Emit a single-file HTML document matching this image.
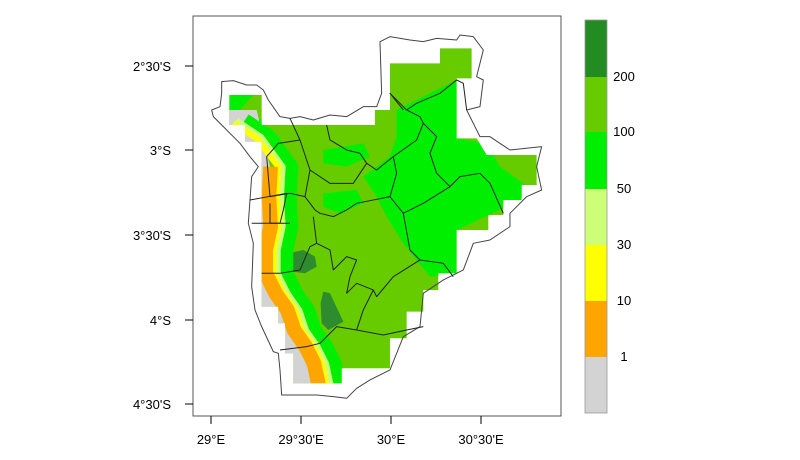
<!DOCTYPE html><html><head><style>body{margin:0;background:#fff}svg{display:block}text{font-family:"Liberation Sans",sans-serif;font-size:13px;fill:#000}</style></head><body>
<svg width="800" height="460" viewBox="0 0 800 460">
<defs><clipPath id="c"><polygon transform="translate(190,10) scale(0.3333)" points="118,255 215,255 215,345 555,345 555,300 600,300 600,160 750,160 750,115 845,115 845,205 800,205 800,385 860,385 890,435 1040,435 1040,525 995,525 995,570 940,570 940,615 895,615 895,660 800,660 800,790 745,790 745,840 700,840 700,905 650,905 650,985 600,985 600,1075 455,1075 455,1120 310,1120 310,1030 285,1030 285,940 265,940 265,890 215,890 215,395 165,395 165,345 118,345"/></clipPath></defs>
<rect x="193" y="16" width="368" height="400" fill="none" stroke="#555" stroke-width="1"/>
<g clip-path="url(#c)"><g transform="translate(190,10) scale(0.3333)">
<rect x="100" y="100" width="1000" height="1100" fill="#66cc00"/>
<polygon fill="#00ee00" points="620,300 800,210 800,385 890,400 930,470 1000,520 995,570 895,615 800,660 800,790 720,800 640,700 590,620 560,560 520,500 600,440 620,380"/>
<polygon fill="#00ee00" points="118,255 190,255 150,300 215,330 215,345 118,345"/>
<polygon fill="#00ee00" points="400,420 520,400 540,440 470,470 400,460"/>
<polygon fill="#00ee00" points="400,550 500,540 520,580 450,610 400,590"/>
<polygon fill="#2e8b2e" points="295,730 340,720 375,740 380,770 345,790 310,785 290,750"/>
<polygon fill="#2e8b2e" points="400,845 420,850 460,935 415,960 395,940 392,880"/>
<polygon fill="#d3d3d3" points="100,300 200,300 240,470 235,560 240,650 225,720 225,790 255,850 290,900 310,960 345,1010 370,1060 385,1130 100,1130"/>
<g fill="none" stroke-linejoin="round">
<polyline stroke="#00ee00" stroke-width="40" points="165,330 240,380 305,470 300,560 305,650 290,720 290,790 320,850 355,900 375,960 410,1010 435,1060 450,1130"/>
<polyline stroke="#ccff77" stroke-width="14" points="140,330 215,380 280,470 275,560 280,650 265,720 265,790 295,850 330,900 350,960 385,1010 410,1060 425,1130"/>
<polyline stroke="#ffff00" stroke-width="18" points="130,340 200,385 265,470 260,560 265,650 250,720 250,790 280,850 315,900 335,960 370,1010 395,1060 410,1130"/>
<polyline stroke="#ffa500" stroke-width="44" points="242,470 237,560 242,650 227,720 227,790 257,850 292,900 312,960 347,1010 372,1060 387,1130"/>
</g></g></g>
<g transform="translate(190,10) scale(0.3333)" fill="none" stroke="#222" stroke-width="3" stroke-linejoin="round">
<polygon stroke="#444" points="95,215 130,212 170,225 200,225 220,240 235,270 270,320 300,325 330,320 370,330 420,315 470,320 520,290 560,290 575,250 570,95 600,80 660,90 700,95 740,85 800,90 810,75 850,80 880,120 860,200 880,210 870,290 830,300 870,380 900,380 960,420 1055,410 1040,470 1055,540 1010,560 960,610 960,650 900,690 850,700 820,780 760,810 700,850 690,950 640,980 600,1080 540,1110 500,1135 470,1165 430,1160 380,1155 275,1155 270,1080 265,1030 250,1025 215,950 195,900 185,830 190,700 175,640 180,570 185,500 205,470 180,440 150,400 100,350 70,320 65,300 90,290 95,250"/>
<polyline points="300,325 330,390 360,480 345,560 300,550 240,560 230,440 265,400 330,390"/>
<polyline points="360,480 420,520 490,520 530,460 510,430 470,420 420,390 410,345"/>
<polyline points="530,460 560,480 610,440 680,390 700,340 690,320 650,300 600,250 640,300"/>
<polyline points="610,440 620,490 600,560 500,580 470,600 430,620 390,610 375,600 345,560"/>
<polyline points="600,560 640,610 700,580 780,530 810,500 870,490 900,520 940,610"/>
<polyline points="780,530 740,490 720,430 740,380 700,340"/>
<polyline points="370,620 380,700 360,710 330,780 270,790 215,790"/>
<polyline points="380,700 420,720 430,780 470,740 500,750 480,800 470,850 500,820 550,840 560,860 610,800 690,750 760,760 790,800"/>
<polyline points="640,610 660,720 690,750"/>
<polyline points="550,840 520,900 500,960 440,950 390,1000 350,1010 270,1020"/>
<polyline points="500,960 580,975 650,960 700,950"/>
<polyline points="830,300 820,220 800,210 750,250 680,280 650,300"/>
<polyline points="180,570 290,550 280,600 270,640 240,640 240,580"/>
<polyline points="185,640 300,640"/>
</g>
<g stroke="#000" stroke-width="1">
<line x1="185" y1="66" x2="193" y2="66"/><line x1="185" y1="150" x2="193" y2="150"/><line x1="185" y1="235" x2="193" y2="235"/><line x1="185" y1="320" x2="193" y2="320"/><line x1="185" y1="404" x2="193" y2="404"/>
<line x1="211" y1="416" x2="211" y2="424"/><line x1="301" y1="416" x2="301" y2="424"/><line x1="391" y1="416" x2="391" y2="424"/><line x1="481" y1="416" x2="481" y2="424"/>
</g>
<g text-anchor="end"><text x="171" y="71">2°30'S</text><text x="171" y="155">3°S</text><text x="171" y="240">3°30'S</text><text x="171" y="325">4°S</text><text x="171" y="409">4°30'S</text></g>
<g text-anchor="middle"><text x="211" y="444">29°E</text><text x="301" y="444">29°30'E</text><text x="391" y="444">30°E</text><text x="481" y="444">30°30'E</text></g>
<rect x="585" y="20" width="22" height="57" fill="#228b22"/>
<rect x="585" y="77" width="22" height="55" fill="#66cc00"/>
<rect x="585" y="132" width="22" height="57" fill="#00ee00"/>
<rect x="585" y="189" width="22" height="56" fill="#ccff77"/>
<rect x="585" y="245" width="22" height="56" fill="#ffff00"/>
<rect x="585" y="301" width="22" height="56" fill="#ffa500"/>
<rect x="585" y="357" width="22" height="56" fill="#d3d3d3"/>
<rect x="585" y="20" width="22" height="393" fill="none" stroke="#999" stroke-width="0.8"/>
<g text-anchor="middle"><text x="624" y="81">200</text><text x="624" y="136">100</text><text x="624" y="193">50</text><text x="624" y="249">30</text><text x="624" y="305">10</text><text x="624" y="361">1</text></g>
</svg></body></html>
